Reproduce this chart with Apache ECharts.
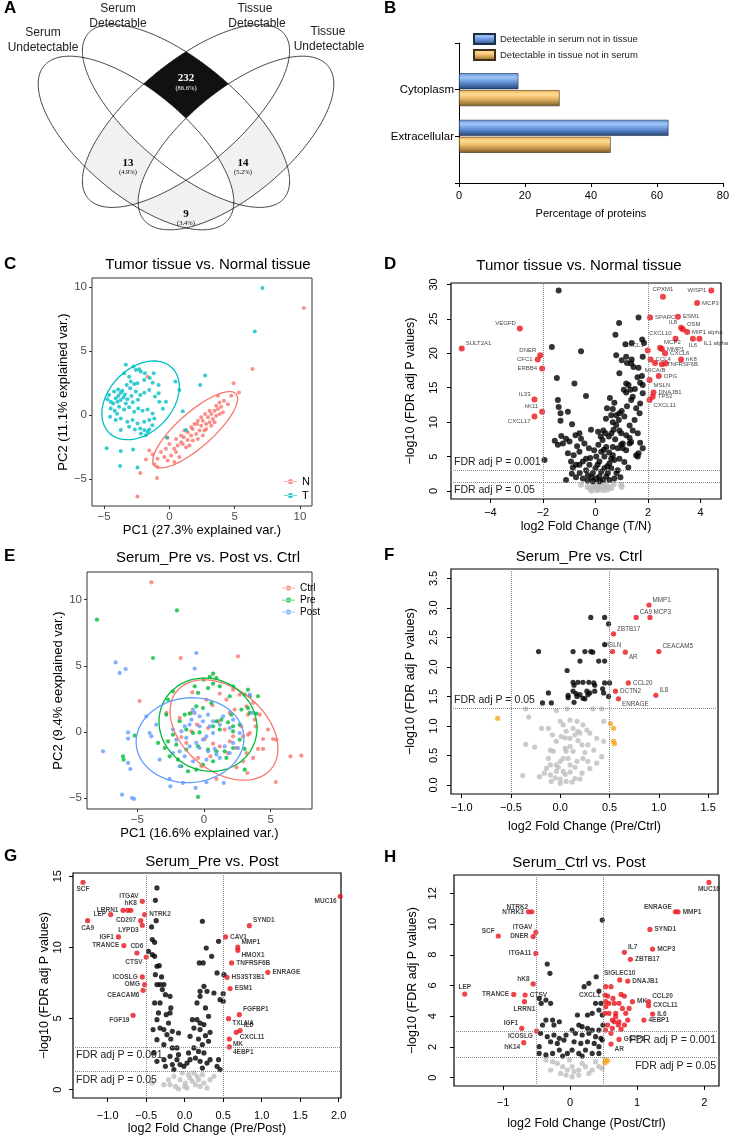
<!DOCTYPE html>
<html><head><meta charset="utf-8">
<script src="https://cdn.jsdelivr.net/npm/echarts@6/dist/echarts.min.js"></script>
<style>html,body{margin:0;padding:0;background:#fff}#c{width:732px;height:1137px}</style>
</head><body><div id="c"></div>
<script>
const FONT = "'Liberation Sans', Arial, Helvetica, sans-serif";
const SERIF = "'Liberation Serif', 'Times New Roman', serif";

// ---------- Panel A (Venn) ----------
const VENN_SETS = ['Serum Undetectable','Serum Detectable','Tissue Detectable','Tissue Undetectable'];
const VENN_COUNTS = {'232':'(86.6%)','13':'(4.9%)','14':'(5.2%)','9':'(3.4%)'};

// ---------- Panel B ----------
const B_categories = ['', 'Extracellular', 'Cytoplasm', ''];
const B_serum = [null, 63.5, 18, null];
const B_tissue = [null, 46, 30.5, null];

// ---------- Panel C (PCA tissue) ----------
const C_T = [[-3.33,3.92],[-2.74,3.79],[-2.56,3.52],[-2.31,3.58],[-2.18,3.39],[-1.87,3.26],[-1.2,3.26],[-3.46,3.26],[-3.08,3.0],[-2.95,2.61],[-3.26,2.35],[-2.69,2.43],[-2.44,2.48],[-1.92,2.74],[-1.28,2.53],[-0.82,2.35],[0.46,2.61],[0.77,1.96],[-4.23,1.83],[-3.92,2.0],[-3.72,1.75],[-4.62,1.57],[-4.74,1.23],[-4.49,1.04],[-4.1,1.31],[-3.97,1.04],[-3.72,1.17],[-3.51,1.38],[-3.33,0.91],[-3.21,1.23],[-2.9,1.49],[-2.56,1.83],[-2.23,1.57],[-1.92,1.75],[-1.54,1.96],[-1.1,1.44],[-0.77,1.04],[-0.26,1.04],[-0.82,1.7],[-4.49,0.52],[-4.18,0.34],[-3.85,0.65],[-3.46,0.44],[-3.08,0.6],[-2.69,0.26],[-2.38,0.52],[-2.05,0.34],[-1.67,0.44],[-1.28,0.13],[-4.54,-0.13],[-4.1,-0.39],[-3.72,-0.26],[-3.21,-0.52],[-2.82,-0.39],[-2.44,-0.65],[-1.92,-0.52],[-1.54,-0.39],[-1.15,-0.26],[-3.08,-0.91],[-2.64,-1.12],[-2.23,-1.04],[-1.92,-1.17],[-1.67,-1.31],[-2.18,-1.44],[-1.79,-1.57],[-1.54,-1.12],[-3.72,-1.17],[1.03,0.29],[1.28,-1.17],[-0.2,-1.75],[-4.8,-2.6],[-3.72,-2.8],[-2.77,-2.69],[-3.77,-3.98],[-2.44,-4.1],[2.74,3.08],[2.36,2.35],[6.54,6.53],[7.13,9.92],[-3.9,1.5],[-3.6,1.9],[-4.3,0.9],[-3.4,1.6],[-2.8,1.0],[-2.4,1.2],[-3.0,2.1],[-1.5,2.9],[-0.5,0.5],[-1.3,-0.8],[-4.0,0.1]];
const C_N = [[10.3,8.36],[6.36,3.6],[4.92,2.48],[5.33,1.76],[-1.67,3.0],[-2.44,-6.36],[-2.23,-4.52],[-0.95,-4.91],[-1.79,-3.46],[-1.54,-2.76],[-1.28,-3.07],[-0.9,-3.41],[-0.38,-3.28],[-0.13,-3.54],[-0.64,-2.89],[-0.26,-2.64],[0.13,-3.15],[0.38,-2.64],[0,-2.25],[0.64,-2.38],[0.51,-2.89],[0.9,-2.12],[1.28,-2.51],[1.1,-1.73],[1.41,-1.94],[1.67,-1.6],[1.79,-1.99],[2.05,-1.47],[2.18,-1.86],[1.41,-1.34],[1.79,-1.09],[2.31,-1.21],[2.44,-0.83],[2.69,-1.21],[2.13,-0.7],[2.56,-0.44],[2.82,-0.7],[2.95,-0.18],[3.08,-0.57],[3.21,0.08],[3.33,-0.31],[3.46,0.34],[3.59,-0.05],[3.72,0.47],[3.85,0.08],[3.97,0.65],[3.59,0.72],[3.08,0.34],[2.74,0.08],[2.44,-0.18],[4.18,1.11],[4.49,0.85],[4.74,1.5],[3.72,1.5],[4.1,0.21],[1.92,-0.7],[1.67,-0.96],[1.15,-1.21],[0.9,-1.6],[0.51,-1.86],[-0.13,-1.78],[2.82,-1.09],[3.21,-0.83],[2.56,-1.6],[0.38,-3.67],[1.03,-2.25],[1.54,-2.38],[-1.15,-3.85],[-0.9,-4.06],[0.77,-3.28],[2.18,-0.44],[3.46,-0.57],[3.85,0.98]];
const C_ELL_T = [-2.2, 1.15, 3.5, 2.45, 48];
const C_ELL_N = [1.98, -1.15, 4.2, 1.35, 42];
const C_xticks = [-5,0,5,10], C_yticks = [-5,0,5,10];

// ---------- Panel D (volcano tissue) ----------
const D_black = [[-1.40,29.1],[-1.66,20.9],[-0.55,20.3],[-1.47,16.4],[-0.80,15.6],[-1.43,13.2],[-1.40,12.2],[-1.33,11.3],[-1.33,10.2],[-1.05,11.5],[-0.36,13.8],[-0.89,9.7],[-0.61,8.4],[-0.76,8.1],[-0.17,8.9],[-0.55,7.6],[-1.12,7.6],[-0.99,7.2],[-1.24,6.9],[-1.43,6.7],[-1.05,5.5],[-0.83,5.2],[-0.61,5.7],[-0.42,6.9],[-0.36,4.7],[-0.48,4.3],[-0.74,3.8],[-0.93,4.3],[-0.86,3.4],[-0.61,3.8],[-0.36,3.0],[-0.29,2.3],[-0.1,2.6],[-0.48,1.8],[-0.74,2.0],[-1.12,1.6],[-1.94,4.5],[0.76,22.7],[0.90,24.4],[1.64,25.2],[1.14,21.3],[1.38,21.5],[1.78,22.0],[0.79,19.7],[1.17,19.5],[1.38,19.1],[1.36,18.5],[1.20,18.6],[1.80,19.5],[1.64,17.9],[1.77,16.7],[1.70,15.7],[1.80,15.4],[0.91,17.1],[1.17,15.6],[1.26,15.4],[1.08,14.7],[1.17,14.3],[1.33,14.7],[1.42,13.7],[1.8,14.2],[1.7,12.7],[0.72,12.8],[0.66,11.9],[0.44,12.0],[0.60,11.0],[0.79,11.0],[0.91,11.3],[1.0,11.6],[0.89,10.3],[0.66,10.0],[0.79,9.6],[0.69,8.9],[0.61,8.4],[0.30,8.8],[0.38,8.4],[0.51,7.9],[0.27,7.4],[0.11,6.7],[0.32,6.0],[0.66,6.4],[0.98,6.7],[1.04,6.2],[1.3,7.7],[1.42,8.8],[1.49,10.3],[1.36,13.2],[1.55,12.0],[1.68,11.3],[0.91,8.8],[0.98,8.4],[1.17,8.1],[1.30,6.9],[1.61,8.4],[1.7,7.0],[1.64,5.5],[1.8,6.2],[0.03,1.8],[0.15,2.1],[0.28,1.6],[0.41,2.1],[0.22,2.8],[0.34,3.3],[0.47,2.6],[0.6,3.3],[0.53,4.0],[0.72,4.5],[0.66,5.2],[0.15,4.3],[0.03,5.0],[0.22,5.7],[0.41,6.4],[0.34,5.0],[0.91,4.7],[0.85,6.2],[1.04,6.9],[1.17,5.9],[1.55,5.2],[1.61,5.0],[1.36,7.1],[0.53,1.6],[0.72,1.8],[-0.1,1.4],[0.15,1.4],[0,3.3],[-0.23,3.8],[0.6,4.7],[-0.2,4.8],[-0.05,5.9],[0.08,3.8],[0.45,3.6],[0.52,5.6],[0.85,3.0],[0.95,2.0],[-0.6,2.6],[-0.9,2.5],[0.2,7.9],[0.1,8.6],[-0.25,6.2],[-0.7,6.5],[-1.3,8.0],[-1.55,7.3],[1.1,10.8],[1.2,12.3],[1.5,14.8],[1.6,16.5],[1.45,18.0],[1.85,21.5],[1.0,19.0],[0.4,10.5],[0.55,13.5],[1.3,9.5],[0.75,7.5],[1.1,4.2],[1.25,3.4],[0.8,2.6],[-0.3,1.5],[-0.15,2.0]];
const D_gray = [[-0.55,0.9],[-0.3,0.6],[-0.2,0.3],[-0.1,0.8],[0.0,0.4],[0.05,0.1],[0.1,0.6],[0.15,1.0],[0.2,0.3],[0.25,0.7],[0.3,0.1],[0.35,0.5],[0.4,0.9],[0.45,0.2],[0.5,0.6],[0.3,1.1],[-0.05,1.1],[0.12,0.2],[0.22,0.9],[0.6,0.4],[0.7,1.0],[0.98,0.9],[1.0,0.6],[-0.15,0.05],[0.08,0.5]];
const D_red = [[-5.09,20.7,'SULT2A1'],[-2.88,23.6,'VEGFD'],[-2.10,19.7,'DNER'],[-2.2,19.1,'CFC1'],[-2.03,17.8,'ERBB4'],[-2.32,13.3,'IL33'],[-2.03,11.5,'hK11'],[-2.32,10.8,'CXCL17'],[2.57,28.2,'CPXM1'],[4.41,29.1,'WISP1'],[3.87,27.3,'MCP3'],[2.08,25.2,'SPARC'],[3.14,25.3,'ESM1'],[3.26,23.7,'IL8'],[3.33,23.5,'OSM'],[3.49,23.1,'MIP1 alpha'],[3.05,22.1,'CXCL10'],[3.71,22.1,'IL6'],[3.96,22.1,'IL1 alpha'],[1.99,20.4,'CXCL1'],[2.46,20.8,'MCP2'],[2.53,20.6,'MMP1'],[2.65,20.0,'CXCL6'],[2.10,19.1,'CCL4'],[3.26,19.1,'hK8'],[2.53,18.4,'TNFRSF6B'],[2.67,18.5,''],[2.27,18.6,'MICA/B'],[2.41,16.7,'OPG'],[2.06,16.1,'MSLN'],[2.21,14.3,'DNAJB1'],[2.18,13.7,'TP53'],[2.06,13.2,'CXCL11']];
const D_xticks = [-4,-2,0,2,4], D_yticks = [0,5,10,15,20,25,30];

// ---------- Panel E (PCA serum) ----------
const E_Ctrl = [[-3.95,11.31],[-1.75,5.59],[2.55,5.72],[-4.83,2.34],[-0.88,3.0],[1.18,2.9],[0.63,2.02],[1.68,2.44],[2.68,2.82],[2.3,1.69],[3.68,2.19],[3.3,1.31],[4.18,1.31],[3.88,0.43],[3.43,-0.08],[3.3,-0.2],[4.8,0.18],[4.43,-0.53],[5.43,-0.58],[5.18,-0.53],[4.05,-1.28],[4.43,-1.28],[6.48,-1.84],[7.3,-1.79],[5.38,-3.78],[3.25,-3.1],[2.43,-2.67],[0.93,-3.55],[-0.2,-2.59],[-1.33,-0.83],[-1.7,-0.38],[-2.83,1.44],[0.3,0.3],[0.05,-0.53],[0.68,-0.88],[1.93,-0.71],[2.18,-0.33],[2.8,0.43],[2.93,-0.33],[1.55,0.18],[1.05,0.81],[-0.53,0.55],[-0.95,0.05],[1.18,-1.08],[1.8,-1.59],[2.43,-1.21],[3.18,-1.59],[3.68,-1.96],[2.93,-2.22],[0.48,-1.84],[-0.45,-1.96],[-0.95,1.44],[-1.83,1.06],[0.18,2.44],[2.18,3.2],[1.93,1.44],[3.18,1.94],[3.8,0.93]];
const E_Pre = [[-8.03,8.49],[-2.03,9.19],[-3.83,5.59],[0.68,4.41],[0.43,4.16],[0.93,4.08],[-0.03,3.95],[0.68,3.65],[-0.7,3.45],[0.3,3.32],[1.18,3.45],[2.18,3.45],[3.3,3.2],[3.05,2.82],[-2.33,3.07],[-0.45,2.95],[3.43,2.7],[4.05,2.7],[1.93,2.7],[-2.7,2.44],[-1.45,1.31],[-1.08,1.39],[-1.83,0.81],[-2.83,1.31],[2.05,1.31],[2.8,1.69],[3.43,1.44],[3.93,1.39],[0.93,0.81],[1.3,0.93],[1.8,0.73],[2.18,0.43],[2.68,0.55],[0.68,0.43],[1.18,0.18],[2.18,0.05],[-0.33,-0.03],[-0.83,-0.08],[-1.33,0.18],[-2.33,-0.2],[-5.2,-0.28],[-3.45,-0.83],[-2.7,-0.71],[-2.95,-1.21],[-2.08,-0.96],[-1.33,-1.33],[-0.45,-1.08],[0.3,-1.33],[0.93,-1.46],[1.55,-1.46],[2.18,-1.21],[3.05,-1.28],[2.68,-0.58],[1.68,-1.96],[0.68,-2.22],[-0.08,-2.47],[-0.58,-2.85],[-1.2,-2.97],[-1.7,-2.59],[-1.95,-2.09],[-2.58,-1.84],[-6.08,-1.84],[-6.03,-2.09],[3.05,-2.85],[-0.45,-4.91],[3.3,1.81],[-0.08,1.81],[0.55,2.19],[-0.58,1.94]];
const E_Post = [[-6.63,5.26],[-6.33,4.46],[-5.88,4.76],[-0.58,5.97],[-0.7,4.79],[-4.33,1.18],[-5.7,-0.03],[-5.7,-0.5],[-7.58,-1.46],[-5.7,-2.34],[-5.53,-2.8],[-6.15,-4.74],[-5.4,-4.99],[-5.25,-5.06],[-4.08,-0.08],[-3.95,-0.33],[-3.58,0.55],[-2.33,0.18],[-2.08,-0.58],[-1.7,0.05],[-1.45,0.43],[-1.08,0.55],[-0.83,1.69],[-0.7,1.44],[-0.33,1.18],[0.3,1.31],[-0.95,0.93],[-0.33,0.43],[-0.08,0.81],[0.68,0.81],[1.18,0.55],[0.68,-0.08],[-0.08,-0.58],[-0.58,-0.83],[-1.08,-1.08],[-1.83,-1.46],[-2.33,-1.59],[-1.45,-1.84],[-0.33,-1.21],[0.3,-1.46],[0.8,-1.28],[1.55,-1.08],[2.18,-0.83],[2.55,-1.21],[1.93,-1.59],[1.18,-1.96],[0.18,-2.09],[0.93,-1.71],[-0.83,-2.22],[-1.83,-2.59],[-2.58,-3.55],[-2.53,-4.11],[-1.58,-3.85],[-0.63,-4.23],[0.18,-3.8],[1.48,-3.85],[3.43,2.82],[3.68,1.44],[2.18,0.93],[2.68,-0.08],[-3.33,-2.09],[0.18,-0.33],[-1.33,-0.45],[0.43,0.43],[1.93,0.3],[1.43,1.18]];
const E_ELL_Ctrl = [1.5, 0.15, 4.6, 3.1, -40];
const E_ELL_Pre = [0.3, 0.55, 3.75, 3.45, -30];
const E_ELL_Post = [-1.05, -0.62, 4.05, 3.2, 5];
const E_xticks = [-5,0,5], E_yticks = [-5,0,5,10];

// ---------- Panel F (Pre vs Ctrl) ----------
const F_black = [[0.31,2.84],[0.45,2.84],[0.49,2.73],[0.45,2.38],[-0.22,2.26],[0.13,2.26],[0.25,2.26],[0.31,2.26],[0.33,2.25],[0.2,2.1],[0.39,2.1],[0.45,2.1],[0.07,1.94],[0.13,1.74],[0.18,1.74],[0.23,1.74],[0.29,1.74],[0.34,1.73],[0.35,1.69],[0.45,1.73],[0.5,1.73],[0.14,1.69],[-0.12,1.56],[0.08,1.52],[0.13,1.59],[0.16,1.55],[0.2,1.53],[0.23,1.47],[0.27,1.59],[0.3,1.56],[0.35,1.59],[0.43,1.63],[0.44,1.56],[0.49,1.5],[0.08,1.48],[0.17,1.5],[0.25,1.46],[0.14,1.4],[-0.18,1.39],[-0.09,1.39],[0.28,1.53]];
const F_orange = [[-0.635,1.13],[0.51,1.04],[0.54,0.96],[0.54,0.74],[0.55,0.70]];
const F_gray = [[0.23,1.02],[0.27,0.93],[0.30,0.88],[0.37,0.79],[0.44,0.74],[0.42,0.48],[0.34,0.59],[-0.38,0.16],[-0.21,0.14],[-0.14,0.28],[-0.04,0.34],[0.03,0.45],[0.05,0.62],[0.1,0.79],[0.15,0.85],[0.18,0.91],[0.06,0.91],[0.01,0.82],[-0.04,0.74],[-0.07,0.57],[-0.1,0.34],[-0.16,0.2],[-0.09,0.06],[0,0.03],[0.06,0.06],[0.15,0.11],[0.22,0.2],[0.3,0.28],[0.37,0.37],[0.23,0.45],[0.17,0.4],[0.1,0.34],[0.03,0.23],[-0.04,0.23],[-0.1,0.17],[0,0.4],[0.06,0.57],[0.13,0.57],[0.22,0.68],[0.28,0.68],[0.03,1.02],[0,1.08],[0.13,0.96],[0.44,1.08],[-0.35,1.29],[-0.04,1.26],[-0.32,1.15],[0.07,1.29],[0.33,1.29],[0.42,1.29],[-0.19,0.96],[-0.12,0.96],[-0.35,0.69],[-0.26,0.64],[-0.1,0.59],[0.1,1.1],[0.17,1.08],[0.0,0.1],[0.05,0.18],[0.1,0.22],[-0.02,0.3],[0.08,0.45],[0.12,0.05],[0.2,0.1],[-0.05,0.12],[0.15,0.3],[0.25,0.55],[0.18,0.75],[0.1,0.65],[-0.12,0.45],[0.28,0.4],[0.05,0.8],[-0.08,0.85],[0.2,0.88]];
const F_red = [[0.90,3.05,'MMP1'],[0.77,2.84,'CA9'],[0.91,2.84,'MCP3'],[0.54,2.56,'ZBTB17'],[0.53,2.26,'MSLN'],[0.66,2.25,'AR'],[1.0,2.26,'CEACAM5'],[0.69,1.73,'CCL20'],[0.56,1.59,'DCTN2'],[0.97,1.52,'IL8'],[0.59,1.46,'ENRAGE']];
const F_xticks = [-1,-0.5,0,0.5,1,1.5], F_yticks = [0,0.5,1,1.5,2,2.5,3,3.5];

// ---------- Panel G (Pre vs Post) ----------
const G_black = [[-0.36,14.17],[-0.38,13.3],[-0.37,11.87],[-0.43,11.43],[-0.39,10.35],[-0.42,9.48],[-0.39,9.37],[-0.36,8.67],[-0.33,8.71],[-0.38,8.08],[-0.3,7.92],[-0.36,7.38],[-0.32,7.38],[-0.27,7.38],[-0.29,7.03],[-0.25,6.67],[-0.19,6.56],[-0.39,6.09],[-0.32,6.09],[-0.18,5.74],[-0.34,5.39],[-0.24,5.27],[-0.19,5.39],[-0.36,4.92],[-0.21,4.68],[-0.41,4.22],[-0.32,4.33],[-0.27,4.22],[-0.16,4.1],[-0.08,3.98],[-0.23,3.86],[-0.36,3.51],[-0.18,3.56],[-0.27,3.16],[-0.16,2.93],[-0.1,2.93],[-0.08,2.46],[-0.19,2.34],[-0.27,2.11],[-0.36,1.99],[-0.1,2.11],[-0.16,1.76],[-0.25,1.64],[-0.06,1.76],[-0.14,1.41],[-0.4,2.58],[-0.47,9.72],[-0.42,10.54],[0.23,11.83],[0.44,10.42],[0.28,9.95],[0.35,9.37],[0.24,8.9],[0.19,8.9],[0.42,8.2],[0.51,8.08],[0.25,7.26],[0.2,6.91],[0.29,6.91],[0.38,6.79],[0.5,6.74],[0.46,6.32],[0.5,6.21],[0.16,6.09],[0.2,6.56],[0.27,5.74],[0.31,5.15],[0.1,4.92],[0.16,4.92],[0.2,4.68],[0.25,4.57],[0.12,4.33],[0.2,4.22],[0.33,4.03],[0.27,3.79],[0.07,3.75],[0.18,3.56],[0.31,3.4],[0.23,3.16],[0.12,2.93],[0.18,2.69],[0.05,2.58],[0.25,2.58],[0.14,2.22],[0.07,2.11],[0.2,1.99],[0.29,1.87],[0.33,2.11],[0.44,2.11],[0.42,1.64],[0.46,1.41],[0.23,1.52],[0.03,1.87],[-0.01,1.64]];
const G_gray = [[-0.42,0.47],[-0.27,0.35],[-0.21,0.7],[-0.14,0.94],[-0.12,0.23],[-0.06,0.7],[-0.03,1.17],[0.01,0.47],[0.03,0.12],[0.07,0.82],[0.12,1.17],[0.14,0.35],[0.18,0.7],[0.23,1.05],[0.25,0.47],[0.29,0.12],[0.33,0.7],[0.38,0.94],[0.0,0.23],[-0.08,0.05],[0.1,0.59],[0.2,0.23],[0.05,1.05],[-0.19,0.35],[0.16,0.94]];
const G_red = [[-1.32,14.57,'SCF'],[-0.55,13.23,'ITGAV'],[-0.80,12.6,'LRRN1'],[-0.74,12.6,''],[-0.70,12.6,'hK8'],[-0.96,12.3,'LEP'],[-0.52,12.3,'NTRK2'],[-0.57,11.87,'CD207'],[-1.26,11.87,'CA9'],[-0.55,11.55,'LYPD3'],[-0.86,10.73,'IGF1'],[-0.79,10.12,'TRANCE'],[-0.62,9.6,'CD6'],[-0.5,9.32,'CTSV'],[-0.55,7.92,'ICOSLG'],[-0.52,7.38,'OMG'],[-0.54,6.98,'CEACAM6'],[-0.67,5.22,'FGF19'],[2.02,13.58,'MUC16'],[0.84,11.52,'SYND1'],[0.53,10.73,'CAV1'],[0.69,10.02,'MMP1'],[0.69,9.79,'HMOX1'],[0.61,8.9,'TNFRSF6B'],[1.08,8.24,'ENRAGE'],[0.55,7.89,'HS3ST3B1'],[0.59,7.1,'ESM1'],[0.71,5.27,'FGFBP1'],[0.57,4.99,'TXLNA'],[0.72,4.15,'IL6'],[0.67,4.03,'CXCL11'],[0.58,3.56,'MK'],[0.58,3.0,'4EBP1']];
const G_xticks = [-1,-0.5,0,0.5,1,1.5,2], G_yticks = [0,5,10,15];

// ---------- Panel H (Ctrl vs Post) ----------
const H_black = [[0.48,10.26],[-0.34,7.4],[-0.3,6.79],[0.39,6.57],[0.28,6.14],[0.21,5.92],[0.43,5.64],[-0.46,5.16],[-0.43,4.84],[-0.36,5.05],[-0.29,4.84],[0.38,4.84],[0.46,4.84],[0.43,4.4],[0.33,4.19],[0.26,4.08],[0.11,4.08],[0.48,4.08],[-0.36,3.75],[-0.26,3.75],[-0.16,3.64],[-0.24,3.43],[-0.41,3.43],[0.13,3.43],[0.18,3.32],[0.26,3.21],[0.33,3.1],[0.43,3.1],[0.03,3.1],[0.08,2.89],[0.18,2.78],[0.28,2.89],[0.38,2.67],[0.46,2.56],[-0.44,2.89],[-0.34,2.67],[-0.24,2.78],[-0.16,2.56],[-0.06,2.78],[-0.29,2.34],[-0.19,2.23],[-0.09,2.45],[0.06,2.34],[0.16,2.23],[0.26,2.34],[0.36,2.23],[0.43,2.02],[-0.46,2.02],[-0.46,1.58],[-0.26,1.58],[-0.16,1.8],[-0.04,1.58],[0.03,1.8],[0.13,1.58],[0.23,1.8],[0.33,1.58],[0.43,1.58],[-0.36,1.48],[-0.11,1.41],[0.18,1.41],[0.48,2.45],[0.49,3.43]];
const H_gray = [[-0.29,0.5],[-0.19,0.93],[-0.11,0.72],[-0.04,0.5],[0.03,0.72],[0.13,0.5],[0.23,0.72],[0.33,0.5],[0.43,0.72],[0.48,0.61],[-0.06,0.17],[0.03,0.07],[0.13,0.17],[-0.26,1.04],[0.18,0.93],[-0.14,0.28],[-0.36,1.15],[0.06,0.39],[0.28,0.28],[0.38,1.04],[-0.01,1.15]];
const H_orange = [[0.53,1.15],[0.56,1.1],[0.52,0.98]];
const H_red = [[2.07,12.71,'MUC16'],[1.57,10.8,'ENRAGE'],[1.61,10.8,'MMP1'],[-0.57,10.8,'NTRK2'],[-0.62,10.8,'NTRK3'],[1.19,9.65,'SYND1'],[-0.51,9.46,'ITGAV'],[-0.55,9.18,'DNER'],[-1.07,9.22,'SCF'],[1.23,8.37,'MCP3'],[0.81,8.16,'IL7'],[-0.51,8.09,'ITGA11'],[0.9,7.7,'ZBTB17'],[0.74,6.36,'SIGLEC10'],[0.86,6.29,'DNAJB1'],[-0.55,6.1,'hK8'],[-1.57,5.44,'LEP'],[-0.84,5.42,'TRANCE'],[-0.67,5.38,'CTSV'],[-0.68,4.95,'LRRN1'],[0.52,5.38,'CXCL1'],[0.93,4.95,'MK'],[1.17,4.95,'CCL20'],[1.17,4.69,'CXCL11'],[1.23,4.14,'IL6'],[1.1,3.75,'4EBP1'],[-0.72,3.21,'IGF1'],[-0.5,3.04,'ICOSLG'],[0.73,2.49,'GSTP1'],[0.61,2.19,'AR'],[-0.69,2.28,'hK14'],[0.53,5.92,''],[0.61,5.92,''],[0.76,5.42,''],[0.81,5.31,''],[0.66,4.84,''],[0.73,4.84,''],[0.53,4.62,''],[0.58,4.19,''],[0.68,4.19,''],[0.78,4.51,''],[0.83,4.19,''],[0.52,4.19,''],[0.63,3.75,''],[0.73,3.64,''],[0.81,3.43,''],[0.56,3.43,''],[0.63,3.21,''],[0.76,3.15,''],[0.53,3.1,''],[0.68,3.97,''],[0.58,4.84,''],[0.88,4.51,''],[0.53,4.95,''],[0.56,5.31,''],[0.64,5.16,''],[0.72,3.43,''],[0.66,3.64,''],[0.86,3.75,''],[0.61,2.89,'']];
const H_xticks = [-1,0,1,2], H_yticks = [0,2,4,6,8,10,12];

// ---------- label placement (style, kept apart from data) ----------
const D_lab = {SULT2A1:'tr',VEGFD:'tl',DNER:'tl',CFC1:'l',ERBB4:'l',IL33:'tl',hK11:'tl',CXCL17:'bl',CPXM1:'t',WISP1:'l',MCP3:'r',SPARC:'r',ESM1:'r',IL8:'tl',OSM:'tr','MIP1 alpha':'r',CXCL10:'tl',IL6:'b','IL1 alpha':'br',CXCL1:'tl',MCP2:'tr',MMP1:'r',CXCL6:'r',CCL4:'r',hK8:'r',TNFRSF6B:'r','MICA/B':'b',OPG:'r',MSLN:'br',DNAJB1:'r',TP53:'r',CXCL11:'br'};
const F_lab = {MMP1:'tr',CA9:'tr',MCP3:'tr',ZBTB17:'tr',MSLN:'t',AR:'br',CEACAM5:'tr',CCL20:'r',DCTN2:'r',IL8:'tr',ENRAGE:'br'};
const G_lab = {SCF:'b',ITGAV:'tl',hK8:'t',LRRN1:'l',LEP:'l',NTRK2:'r',CD207:'l',CA9:'b',LYPD3:'bl',IGF1:'l',TRANCE:'l',CD6:'t',CTSV:'bl',ICOSLG:'l',OMG:'l',CEACAM6:'bl',FGF19:'bl',MUC16:'bl',SYND1:'tr',CAV1:'r',MMP1:'tr',HMOX1:'br',TNFRSF6B:'r',ENRAGE:'r',HS3ST3B1:'r',ESM1:'r',FGFBP1:'tr',TXLNA:'br',IL6:'tr',CXCL11:'br',MK:'br','4EBP1':'br'};
const H_lab = {MUC16:'b',ENRAGE:'tl',MMP1:'r',NTRK2:'tl',NTRK3:'l',SYND1:'r',ITGAV:'tl',DNER:'l',SCF:'tl',MCP3:'r',IL7:'tr',ITGA11:'l',ZBTB17:'r',SIGLEC10:'t',DNAJB1:'r',hK8:'tl',LEP:'t',TRANCE:'l',CTSV:'r',LRRN1:'b',CXCL1:'l',MK:'r',CCL20:'tr',CXCL11:'r',IL6:'r','4EBP1':'r',IGF1:'tl',ICOSLG:'bl',GSTP1:'r',AR:'br',hK14:'bl'};

// ================= helpers =================
const minus = s => String(s).replace('-', '\u2212');
function ellipseLine(e, n) {
  const [cx, cy, a, b, deg] = e, t = deg * Math.PI / 180, out = [];
  for (let i = 0; i <= n; i++) {
    const u = 2 * Math.PI * i / n;
    out.push([cx + a*Math.cos(u)*Math.cos(t) - b*Math.sin(u)*Math.sin(t),
              cy + a*Math.cos(u)*Math.sin(t) + b*Math.sin(u)*Math.cos(t)]);
  }
  return out;
}
function labelCfg(code, fs, bold) {
  const m = {r:['right',[0,0]], l:['left',[0,0]], t:['top',[0,1]], b:['bottom',[0,-1]],
             tr:['right',[-1,-5]], tl:['left',[1,-5]], br:['right',[-1,5]], bl:['left',[1,5]]};
  const v = m[code] || m.r;
  return {show:true, position:v[0], offset:v[1], distance:2, fontSize:fs, color:'#111',
          fontFamily:FONT, fontWeight: bold ? 'bold' : 'normal', formatter:'{b}'};
}
function labeled(arr, pos, fs, bold) {
  return arr.map(d => ({name:d[2], value:[d[0], d[1]],
    label: (d[2] && pos[d[2]]) ? labelCfg(pos[d[2]], fs, bold) : {show:false}}));
}
function sc(gi, data, color, size, z, name) {
  const s = {type:'scatter', xAxisIndex:gi, yAxisIndex:gi, data, symbolSize:size,
          itemStyle:{color}, z: z || 2, silent:true};
  if (name) s.name = name;
  return s;
}
function ell(gi, e, color, name) {
  return {type:'line', name: name, xAxisIndex:gi, yAxisIndex:gi, data: ellipseLine(e, 160),
          showSymbol:false, symbol:'none', lineStyle:{color, width:1.3}, z:3, silent:true};
}
function pcaX(gi, min, max, ticks, name, gap) {
  return {gridIndex:gi, type:'value', min, max, splitLine:{show:false}, axisLine:{show:false, onZero:false},
    axisTick:{show:true, customValues:ticks, length:3, lineStyle:{color:'#333'}},
    axisLabel:{customValues:ticks, color:'#4d4d4d', fontSize:11.5, margin:5, fontFamily:FONT, formatter:v=>minus(v)},
    name, nameLocation:'middle', nameGap:gap, nameTextStyle:{fontSize:13, color:'#000', fontFamily:FONT}};
}
function pcaY(gi, min, max, ticks, name, gap) {
  return {gridIndex:gi, type:'value', min, max, splitLine:{show:false}, axisLine:{show:false, onZero:false},
    axisTick:{show:true, customValues:ticks, length:3, lineStyle:{color:'#333'}},
    axisLabel:{customValues:ticks, color:'#4d4d4d', fontSize:11.5, margin:5, fontFamily:FONT, formatter:v=>minus(v)},
    name, nameLocation:'middle', nameGap:gap, nameRotate:90, nameTextStyle:{fontSize:13, color:'#000', fontFamily:FONT}};
}
function volX(gi, min, max, ticks, dec, name, margin, gap) {
  return {gridIndex:gi, type:'value', min, max, splitLine:{show:false}, axisLine:{show:false, onZero:false},
    axisTick:{show:true, customValues:ticks, length:4, lineStyle:{color:'#000'}},
    axisLabel:{customValues:ticks, color:'#000', fontSize:11, margin, fontFamily:FONT, formatter:v=>minus(v.toFixed(dec))},
    name, nameLocation:'middle', nameGap:gap, nameTextStyle:{fontSize:12.5, color:'#000', fontFamily:FONT}};
}
function volY(gi, min, max, ticks, dec, name, margin, gap) {
  return {gridIndex:gi, type:'value', min, max, splitLine:{show:false}, axisLine:{show:false, onZero:false},
    axisTick:{show:true, customValues:ticks, length:4, lineStyle:{color:'#000'}},
    axisLabel:{customValues:ticks, color:'#000', fontSize:11, margin, rotate:90, fontFamily:FONT, formatter:v=>minus(v.toFixed(dec))},
    name, nameLocation:'middle', nameGap:gap, nameRotate:90, nameTextStyle:{fontSize:12.5, color:'#000', fontFamily:FONT}};
}
function thresholds(vx, lines) {
  const d = vx.map(x => ({xAxis:x, label:{show:false}}));
  lines.forEach(l => d.push({yAxis:l[0], label:{show:true, formatter:l[1], position:l[2], distance:3,
      fontSize:10.5, color:'#222', fontFamily:FONT}}));
  return {silent:true, symbol:'none', lineStyle:{type:'dotted', color:'#8a8a8a', width:1}, data:d};
}

// ================= Venn geometry (pixel) =================
const VENN_ELL = [[136,143,120,52,40],[186,116,128,52,40],[186,116,128,52,-40],[236,143,120,52,-40]];
function ellVal(e, x, y) {
  const [cx, cy, a, b, deg] = e, t = deg*Math.PI/180, dx = x-cx, dy = y-cy;
  const p = dx*Math.cos(t) + dy*Math.sin(t), q = -dx*Math.sin(t) + dy*Math.cos(t);
  return p*p/(a*a) + q*q/(b*b);
}
function ellPoly(e, n) {
  const [cx, cy, a, b, deg] = e, t = deg*Math.PI/180, out = [];
  for (let i = 0; i < n; i++) {
    const u = 2*Math.PI*i/n;
    out.push([cx + a*Math.cos(u)*Math.cos(t) - b*Math.sin(u)*Math.sin(t),
              cy + a*Math.cos(u)*Math.sin(t) + b*Math.sin(u)*Math.cos(t)]);
  }
  return out;
}
function regionPoly(ins, outs) {
  const pts = [];
  VENN_ELL.forEach((e, k) => {
    ellPoly(e, 2000).forEach(p => {
      let ok = true;
      VENN_ELL.forEach((f, i) => {
        if (i === k) return;
        const v = ellVal(f, p[0], p[1]);
        if (ins.includes(i) && v > 1) ok = false;
        if (outs.includes(i) && v < 1) ok = false;
      });
      if (ok) pts.push(p);
    });
  });
  const cx = pts.reduce((s,p)=>s+p[0],0)/pts.length, cy = pts.reduce((s,p)=>s+p[1],0)/pts.length;
  pts.sort((a,b)=>Math.atan2(a[1]-cy,a[0]-cx)-Math.atan2(b[1]-cy,b[0]-cx));
  return pts;
}
const graphics = [];
graphics.push({type:'polygon', shape:{points:regionPoly([1,2],[0,3])}, style:{fill:'#111', stroke:'none'}, z:1, silent:true});
graphics.push({type:'polygon', shape:{points:regionPoly([0,2],[1,3])}, style:{fill:'#f1f1f1', stroke:'none'}, z:1, silent:true});
graphics.push({type:'polygon', shape:{points:regionPoly([1,3],[0,2])}, style:{fill:'#f1f1f1', stroke:'none'}, z:1, silent:true});
graphics.push({type:'polygon', shape:{points:regionPoly([0,3],[1,2])}, style:{fill:'#f1f1f1', stroke:'none'}, z:1, silent:true});
VENN_ELL.forEach(e => graphics.push({type:'polygon', shape:{points:ellPoly(e, 360)}, style:{fill:'none', stroke:'#111', lineWidth:0.8}, z:2, silent:true}));
function gtext(x, y, text, size, opts) {
  opts = opts || {};
  graphics.push({type:'text', x, y, z:5, silent:true, style:{text, fill: opts.fill || '#000',
    fontSize:size, fontFamily: opts.family || FONT, fontWeight: opts.weight || 'normal',
    align: opts.align || 'center', verticalAlign:'middle'}});
}
// Venn set labels
gtext(43, 33, 'Serum', 12, {fill:'#222'}); gtext(43, 48, 'Undetectable', 12, {fill:'#222'});
gtext(118, 9, 'Serum', 12, {fill:'#222'}); gtext(118, 24, 'Detectable', 12, {fill:'#222'});
gtext(255, 9, 'Tissue', 12, {fill:'#222'}); gtext(257, 24, 'Detectable', 12, {fill:'#222'});
gtext(328, 32, 'Tissue', 12, {fill:'#222'}); gtext(329, 47, 'Undetectable', 12, {fill:'#222'});
// Venn counts
gtext(186, 78, '232', 11, {fill:'#fff', family:SERIF, weight:'bold'}); gtext(186, 88, VENN_COUNTS['232'], 6.5, {fill:'#fff', family:SERIF});
gtext(128, 163, '13', 11, {family:SERIF, weight:'bold'}); gtext(128, 172, VENN_COUNTS['13'], 6.5, {family:SERIF});
gtext(243, 163, '14', 11, {family:SERIF, weight:'bold'}); gtext(243, 172, VENN_COUNTS['14'], 6.5, {family:SERIF});
gtext(186, 214, '9', 11, {family:SERIF, weight:'bold'}); gtext(186, 223, VENN_COUNTS['9'], 6.5, {family:SERIF});
// panel letters
[['A',4,8],['B',384,8],['C',4,264],['D',384,264],['E',4,556],['F',384,555],['G',4,856],['H',384,857]]
  .forEach(l => gtext(l[1], l[2], l[0], 17, {weight:'bold', align:'left'}));
// panel titles
gtext(208, 265, 'Tumor tissue vs. Normal tissue', 15);
gtext(579, 266, 'Tumor tissue vs. Normal tissue', 15);
gtext(208, 558, 'Serum_Pre vs. Post vs. Ctrl', 15);
gtext(579, 557, 'Serum_Pre vs. Ctrl', 15);
gtext(212, 862, 'Serum_Pre vs. Post', 15);
gtext(579, 863, 'Serum_Ctrl vs. Post', 15);

// ================= option =================
const grad = stops => ({type:'linear', x:0, y:0, x2:0, y2:1, colorStops:stops.map(c=>({offset:c[0], color:c[1]}))});
const BLUE = grad([[0,'#5b8fda'],[0.25,'#a2c6f6'],[0.5,'#6e9de2'],[0.85,'#3b5f99'],[1,'#243f69']]);
const ORANGE = grad([[0,'#f0b04c'],[0.25,'#ffdc98'],[0.5,'#efbd6a'],[0.85,'#a27b3b'],[1,'#6b5128']]);
const LEG_ICON = 'path://M0,3.6h14v0.9h-14z M7,1.2a2.8,2.8 0 1,0 0.01,0z';
const box = (l,t,w,h,c,bw) => ({left:l, top:t, width:w, height:h, show:true, borderColor:c, borderWidth:bw, backgroundColor:'transparent'});

const option = {
  animation:false,
  grid:[
    {left:459, top:43, width:267, height:140},
    box(92,278,220,228,'#333',1),
    box(451,283,270,216,'#000',1.2),
    box(87,572,225,237,'#333',1),
    box(451,569,267,225,'#000',1.2),
    box(73,873,268,225,'#000',1.2),
    box(454,875,265,211,'#000',1.2)
  ],
  xAxis:[
    {gridIndex:0, type:'value', min:0, max:80, interval:20, splitLine:{show:false},
     axisLine:{show:true, onZero:false, lineStyle:{color:'#000'}}, axisTick:{show:true, length:4, lineStyle:{color:'#000'}},
     axisLabel:{fontSize:11, color:'#000', margin:7, fontFamily:FONT},
     name:'Percentage of proteins', nameLocation:'middle', nameGap:25, nameTextStyle:{fontSize:11, color:'#000', fontFamily:FONT}},
    pcaX(1, -5.92, 10.92, C_xticks, 'PC1 (27.3% explained var.)', 16),
    volX(2, -5.5, 4.78, D_xticks, 0, 'log2 Fold Change (T/N)', 8, 21),
    pcaX(3, -8.78, 8.1, E_xticks, 'PC1 (16.6% explained var.)', 18),
    volX(4, -1.108, 1.60, F_xticks, 1, 'log2 Fold Change (Pre/Ctrl)', 8, 26),
    volX(5, -1.45, 2.03, G_xticks, 1, 'log2 Fold Change (Pre/Post)', 12, 23),
    volX(6, -1.73, 2.22, H_xticks, 0, 'log2 Fold Change (Post/Ctrl)', 11, 31)
  ],
  yAxis:[
    {gridIndex:0, type:'category', data:B_categories, boundaryGap:false, splitLine:{show:false},
     axisLine:{show:true, onZero:false, lineStyle:{color:'#000'}}, axisTick:{show:true, length:4, lineStyle:{color:'#000'}},
     axisLabel:{fontSize:11.5, color:'#000', margin:5, fontFamily:FONT}},
    pcaY(1, -7.1, 10.7, C_yticks, 'PC2 (11.1% explained var.)', 21),
    volY(2, -1.16, 30.2, D_yticks, 0, '\u2212log10 (FDR adj P values)', 12, 34),
    pcaY(3, -5.82, 12.09, E_yticks, 'PC2 (9.4% eexplained var.)', 18),
    volY(4, -0.153, 3.66, F_yticks, 1, '\u2212log10 (FDR adj P values)', 12, 34),
    volY(5, -0.585, 15.22, G_yticks, 0, '\u2212log10 (FDR adj P values)', 10, 22),
    volY(6, -0.54, 13.19, H_yticks, 0, '\u2212log10 (FDR adj P values)', 16, 35)
  ],
  legend:[
    {left:468, top:28, orient:'vertical', itemWidth:21, itemHeight:10, itemGap:4, icon:'rect',
     textStyle:{fontSize:9.5, color:'#222', fontFamily:FONT},
     data:['Detectable in serum not in tissue','Detectable in tissue not in serum']},
    {left:279, top:471, orient:'vertical', itemWidth:13, itemHeight:5.5, itemGap:3, icon:LEG_ICON,
     textStyle:{fontSize:11, color:'#000', fontFamily:FONT}, data:['N','T']},
    {left:277, top:578, orient:'vertical', itemWidth:13, itemHeight:5.5, itemGap:2, icon:LEG_ICON,
     textStyle:{fontSize:10, color:'#000', fontFamily:FONT}, data:['Ctrl','Pre','Post']}
  ],
  graphic: graphics,
  series:[
    {type:'bar', name:'Detectable in serum not in tissue', xAxisIndex:0, yAxisIndex:0, data:B_serum, barWidth:16, barGap:'6%',
     itemStyle:{color:BLUE, borderColor:'#1d2f4a', borderWidth:0.6}, silent:true},
    {type:'bar', name:'Detectable in tissue not in serum', xAxisIndex:0, yAxisIndex:0, data:B_tissue, barWidth:16, barGap:'6%',
     itemStyle:{color:ORANGE, borderColor:'#3e3018', borderWidth:0.6}, silent:true},

    sc(1, C_N, '#F8766D', 4, 2, 'N'),
    sc(1, C_T, '#00BFC4', 4, 2, 'T'),
    ell(1, C_ELL_N, '#F8766D', 'N ellipse'),
    ell(1, C_ELL_T, '#00BFC4', 'T ellipse'),

    Object.assign(sc(2, D_gray, '#bebebe', 6, 2), {markLine: thresholds([-2, 2],
      [[3, 'FDR adj P = 0.001', 'insideStartTop'], [1.3, 'FDR adj P = 0.05', 'insideStartBottom']])}),
    sc(2, D_black, '#000', 6, 3),
    sc(2, labeled(D_red, D_lab, 6, false), '#e8141b', 6, 4),

    sc(3, E_Ctrl, '#F8766D', 4.2, 2, 'Ctrl'),
    sc(3, E_Pre, '#00BA38', 4.2, 2, 'Pre'),
    sc(3, E_Post, '#619CFF', 4.2, 2, 'Post'),
    ell(3, E_ELL_Ctrl, '#F8766D', 'Ctrl ellipse'),
    ell(3, E_ELL_Pre, '#00BA38', 'Pre ellipse'),
    ell(3, E_ELL_Post, '#619CFF', 'Post ellipse'),

    Object.assign(sc(4, F_gray, '#bebebe', 5.2, 2), {markLine: thresholds([-0.5, 0.5],
      [[1.3, 'FDR adj P = 0.05', 'insideStartTop']])}),
    sc(4, F_black, '#000', 5.2, 3),
    sc(4, F_orange, '#f5a623', 5.2, 3),
    sc(4, labeled(F_red, F_lab, 6.3, false), '#e8141b', 5.2, 4),

    Object.assign(sc(5, G_gray, '#bebebe', 5.2, 2), {markLine: thresholds([-0.5, 0.5],
      [[3, 'FDR adj P = 0.001', 'insideStartBottom'], [1.3, 'FDR adj P = 0.05', 'insideStartBottom']])}),
    sc(5, G_black, '#000', 5.2, 3),
    sc(5, labeled(G_red, G_lab, 6.5, true), '#e8141b', 5.2, 4),

    Object.assign(sc(6, H_gray, '#bebebe', 5.2, 2), {markLine: thresholds([-0.5, 0.5],
      [[3, 'FDR adj P = 0.001', 'insideEndBottom'], [1.3, 'FDR adj P = 0.05', 'insideEndBottom']])}),
    sc(6, H_black, '#000', 5.2, 3),
    sc(6, H_orange, '#f5a623', 5.2, 3),
    sc(6, labeled(H_red, H_lab, 6.5, true), '#e8141b', 5.2, 4)
  ]
};
const chart = echarts.init(document.getElementById('c'), null, {renderer:'canvas', width:732, height:1137});
chart.setOption(option);
</script></body></html>
